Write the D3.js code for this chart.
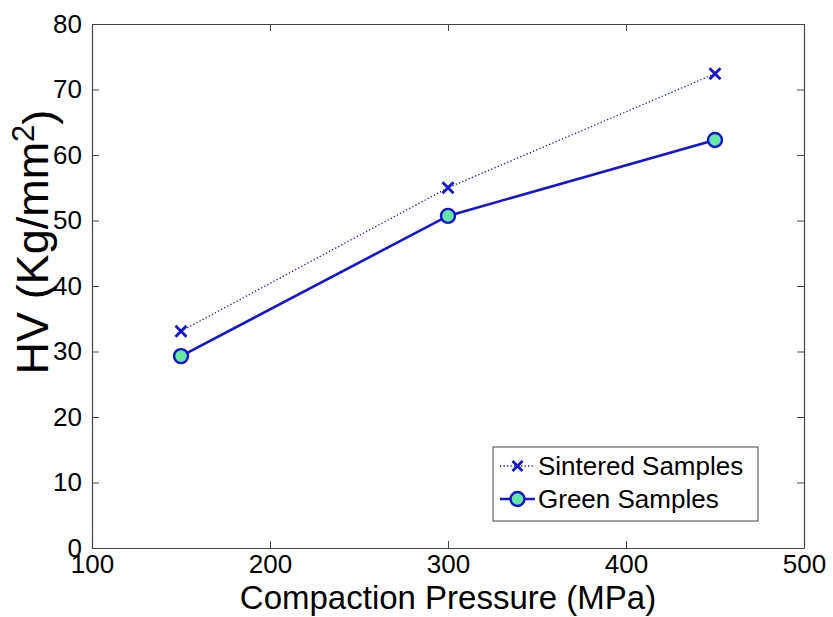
<!DOCTYPE html>
<html>
<head>
<meta charset="utf-8">
<script src="https://cdn.jsdelivr.net/npm/d3@7"></script>
<style>
  body { margin: 0; background: #fff; }
  svg text { font-family: "Liberation Sans", Arial, sans-serif; fill: #000; }
  .axis path, .axis line { stroke: #444; }
</style>
</head>
<body>
<div class="svg-wrapper"></div>
<script>
// data
var pressure = [150, 300, 450];
var sintered = [33.1, 55.0, 72.4];
var green    = [29.3, 50.7, 62.3];
var x_ticks  = [100, 200, 300, 400, 500];
var y_ticks  = [0, 10, 20, 30, 40, 50, 60, 70, 80];
var series_names = ["Sintered Samples", "Green Samples"];

var W = 833, H = 617;
var margin = {top: 24, right: 29, bottom: 69, left: 92},
    width  = W - margin.left - margin.right,
    height = H - margin.top - margin.bottom;

var svg = d3.select(".svg-wrapper").append("svg")
  .attr("width", W)
  .attr("height", H);

var g = svg.append("g")
  .attr("transform", "translate(" + margin.left + "," + margin.top + ")");

var xScale = d3.scaleLinear().domain([100, 500]).range([0, width]),
    yScale = d3.scaleLinear().domain([0, 80]).range([height, 0]);

var blue = "#1414d2";

// box + inward ticks on all sides
g.append("g").attr("class", "axis")
  .attr("transform", "translate(0," + height + ")")
  .call(d3.axisBottom(xScale).tickValues(x_ticks).tickSize(-7).tickSizeOuter(0).tickPadding(7).tickFormat(d3.format("d")))
  .call(function(a) { a.selectAll("text").style("font-size", "26px").attr("dy", "0.71em"); });

g.append("g").attr("class", "axis")
  .call(d3.axisLeft(yScale).tickValues(y_ticks).tickSize(-7).tickSizeOuter(0).tickPadding(10))
  .call(function(a) { a.selectAll("text").style("font-size", "26px"); });

g.append("g").attr("class", "axis")
  .call(d3.axisTop(xScale).tickValues(x_ticks).tickSize(-7).tickSizeOuter(0).tickFormat(""));

g.append("g").attr("class", "axis")
  .attr("transform", "translate(" + width + ",0)")
  .call(d3.axisRight(yScale).tickValues(y_ticks).tickSize(-7).tickSizeOuter(0).tickFormat(""));

g.selectAll(".axis .domain").attr("stroke-width", 1.2);

// lines
var line = d3.line()
  .x(function(d) { return xScale(d[0]); })
  .y(function(d) { return yScale(d[1]); });

var sinteredPts = pressure.map(function(p, i) { return [p, sintered[i]]; });
var greenPts    = pressure.map(function(p, i) { return [p, green[i]]; });

g.append("path")
  .attr("d", line(sinteredPts))
  .attr("fill", "none")
  .attr("stroke", blue)
  .attr("stroke-width", 1.3)
  .attr("stroke-dasharray", "1.3,2.2");

g.append("path")
  .attr("d", line(greenPts))
  .attr("fill", "none")
  .attr("stroke", blue)
  .attr("stroke-width", 2.6);

function crossMark(sel, size) {
  sel.append("path")
    .attr("d", "M" + (-size) + "," + (-size) + "L" + size + "," + size + "M" + (-size) + "," + size + "L" + size + "," + (-size))
    .attr("stroke", blue)
    .attr("stroke-width", 2.8)
    .attr("fill", "none");
}

g.selectAll(".xmark").data(sinteredPts).enter().append("g")
  .attr("class", "xmark")
  .attr("transform", function(d) { return "translate(" + xScale(d[0]) + "," + yScale(d[1]) + ")"; })
  .each(function() { crossMark(d3.select(this), 5.5); });

g.selectAll(".omark").data(greenPts).enter().append("circle")
  .attr("class", "omark")
  .attr("cx", function(d) { return xScale(d[0]); })
  .attr("cy", function(d) { return yScale(d[1]); })
  .attr("r", 7)
  .attr("fill", "#66e6a0")
  .attr("stroke", blue)
  .attr("stroke-width", 2.4);

// axis labels
svg.append("text")
  .attr("x", margin.left + width / 2)
  .attr("y", 609)
  .attr("text-anchor", "middle")
  .style("font-size", "33px")
  .text("Compaction Pressure (MPa)");

var yl = svg.append("text")
  .attr("transform", "translate(48,242) rotate(-90)")
  .attr("text-anchor", "middle")
  .style("font-size", "45px");
yl.append("tspan").text("HV (Kg/mm");
yl.append("tspan").attr("dy", "-0.45em").style("font-size", "31px").text("2");
yl.append("tspan").attr("dy", "0.45em").text(")");

// legend
var lg = svg.append("g").attr("transform", "translate(493,447)");
lg.append("rect")
  .attr("width", 265).attr("height", 74)
  .attr("fill", "#fff").attr("stroke", "#444").attr("stroke-width", 1);

var row1 = lg.append("g").attr("transform", "translate(0,19)");
row1.append("line").attr("x1", 7).attr("x2", 42)
  .attr("stroke", blue).attr("stroke-width", 1.3).attr("stroke-dasharray", "1.3,2.2");
var cm = row1.append("g").attr("transform", "translate(24.5,0)");
crossMark(cm, 5);
row1.append("text").attr("x", 45).attr("dy", "0.35em").style("font-size", "26px").text(series_names[0]);

var row2 = lg.append("g").attr("transform", "translate(0,52)");
row2.append("line").attr("x1", 7).attr("x2", 42)
  .attr("stroke", blue).attr("stroke-width", 2.6);
row2.append("circle").attr("cx", 24.5).attr("r", 7)
  .attr("fill", "#66e6a0").attr("stroke", blue).attr("stroke-width", 2.4);
row2.append("text").attr("x", 45).attr("dy", "0.35em").style("font-size", "26px").text(series_names[1]);
</script>
</body>
</html>
